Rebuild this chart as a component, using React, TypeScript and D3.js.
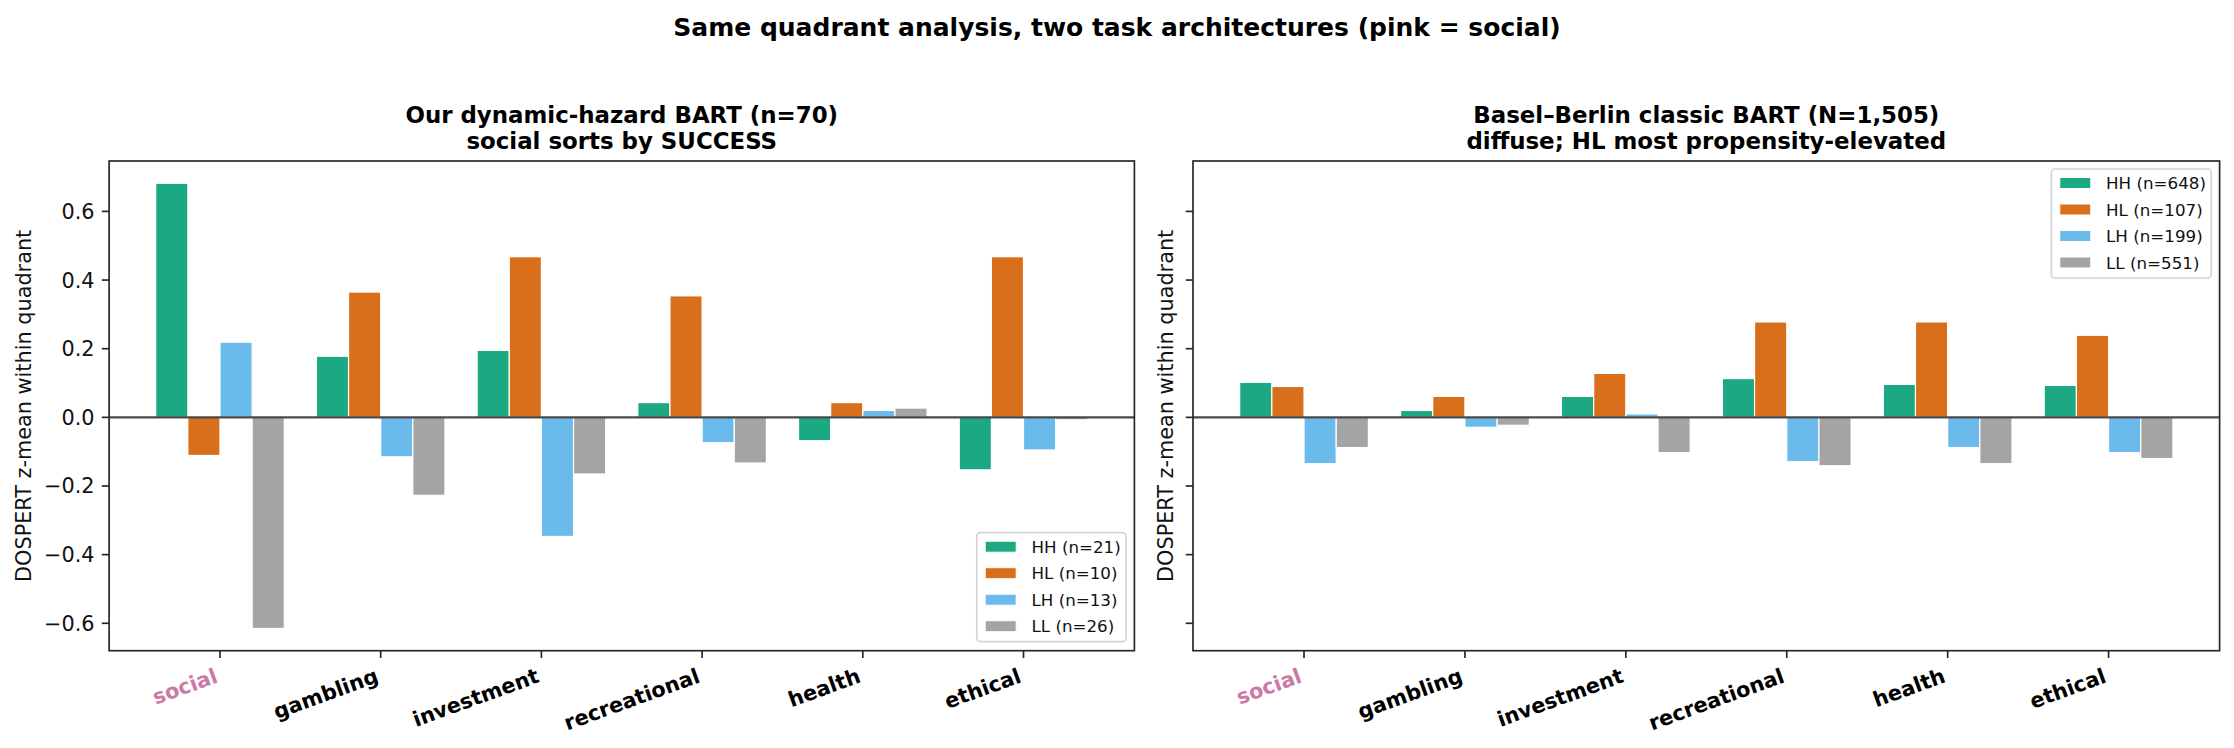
import React from 'react';
import * as d3 from 'd3';

// categories and groups
const categories = ['social', 'gambling', 'investment', 'recreational', 'health', 'ethical'];
const quadrants = ['HH', 'HL', 'LH', 'LL'];

// our dynamic-hazard BART (n=70)
const ourHH = [0.682, 0.178, 0.195, 0.043, -0.068, -0.153];
const ourHL = [-0.111, 0.365, 0.468, 0.354, 0.043, 0.468];
const ourLH = [0.219, -0.115, -0.347, -0.074, 0.02, -0.095];
const ourLL = [-0.615, -0.227, -0.165, -0.133, 0.027, -0.007];
const ourN = [21, 10, 13, 26];

// Basel-Berlin classic BART (N=1,505)
const bbHH = [0.102, 0.02, 0.061, 0.113, 0.096, 0.093];
const bbHL = [0.09, 0.061, 0.128, 0.278, 0.278, 0.239];
const bbLH = [-0.135, -0.029, 0.01, -0.129, -0.088, -0.103];
const bbLL = [-0.088, -0.023, -0.103, -0.141, -0.135, -0.12];
const bbN = [648, 107, 199, 551];

const yTicks = [-0.6, -0.4, -0.2, 0.0, 0.2, 0.4, 0.6];

const colors = ['#1ba883', '#d96f1a', '#6abbeb', '#a4a4a4'];
const socialPink = '#cc79a7';
const FONT = '"DejaVu Sans", Verdana, sans-serif';

const W = 2234;
const H = 748;
const barW = 0.2;

// shared y domain (matplotlib-like 5% margins)
const allVals = [...ourHH, ...ourHL, ...ourLH, ...ourLL, ...bbHH, ...bbHL, ...bbLH, ...bbLL, 0];
const [vMin, vMax] = d3.extent(allVals) as [number, number];
const vPad = (vMax - vMin) * 0.05;
const y = d3.scaleLinear().domain([vMin - vPad, vMax + vPad]).range([650.7, 161]);

// x domain from bar extents
const xLo = -1.5 * barW - barW / 2;
const xHi = categories.length - 1 + 1.5 * barW + barW / 2;
const xPad = (xHi - xLo) * 0.05;

const fmt = (v: number) => (v < 0 ? '\u2212' : '') + Math.abs(v).toFixed(1);

const measure = (() => {
  let ctx: CanvasRenderingContext2D | null = null;
  return (s: string, size: number) => {
    if (!ctx) ctx = document.createElement('canvas').getContext('2d');
    if (!ctx) return s.length * size * 0.6;
    ctx.font = `${size}px "DejaVu Sans"`;
    return ctx.measureText(s).width;
  };
})();

type PanelProps = {
  left: number;
  right: number;
  titles: string[];
  series: number[][];
  counts: number[];
  legendPos: 'lower right' | 'upper right';
  tickLabels: boolean;
  ylabelX: number;
};

const Panel: React.FC<PanelProps> = ({ left, right, titles, series, counts, legendPos, tickLabels, ylabelX }) => {
  const x = d3.scaleLinear().domain([xLo - xPad, xHi + xPad]).range([left, right]);
  const [yBot, yTop] = y.range();
  const cx = (left + right) / 2;

  // legend
  const legFont = 16.7;
  const labels = quadrants.map((q, i) => `${q} (n=${counts[i]})`);
  const textW = d3.max(labels, l => measure(l, legFont)) || 0;
  const legW = textW + 60;
  const legH = 109;
  const legX = right - 8.4 - legW;
  const legY = legendPos === 'lower right' ? yBot - 9 - legH : yTop + 8;

  return (
    <g>
      {titles.map((t, i) => (
        <text key={t} x={cx} y={122.7 + i * 26.6} textAnchor="middle" fontWeight="bold" fontSize={22.9} fontFamily={FONT}>
          {t}
        </text>
      ))}

      {/* bars */}
      {series.map((vals, qi) =>
        vals.map((v, ci) => {
          const x0 = x(ci + (qi - 1.5) * barW - barW / 2);
          const x1 = x(ci + (qi - 1.5) * barW + barW / 2);
          return (
            <rect
              key={`${qi}-${ci}`}
              x={x0}
              width={x1 - x0}
              y={Math.min(y(v), y(0))}
              height={Math.abs(y(v) - y(0))}
              fill={colors[qi]}
              stroke="#fff"
              strokeWidth={1.2}
            />
          );
        })
      )}

      {/* zero line */}
      <line x1={left} x2={right} y1={y(0)} y2={y(0)} stroke="#4a4a4a" strokeWidth={2.3} />

      {/* y ticks */}
      {yTicks.map(t => (
        <g key={t}>
          <line x1={left - 7.3} x2={left} y1={y(t)} y2={y(t)} stroke="#262626" strokeWidth={1.67} />
          {tickLabels && (
            <text x={left - 14.6} y={y(t)} dy="0.36em" textAnchor="end" fontSize={20.8} fontFamily={FONT} fill="#111">
              {fmt(t)}
            </text>
          )}
        </g>
      ))}

      {/* x ticks */}
      {categories.map((c, i) => (
        <g key={c}>
          <line x1={x(i)} x2={x(i)} y1={yBot} y2={yBot + 7.3} stroke="#262626" strokeWidth={1.67} />
          <text
            transform={`translate(${x(i) - 1},${yBot + 31}) rotate(-20)`}
            textAnchor="end"
            fontWeight="bold"
            fontSize={20.8}
            fontFamily={FONT}
            fill={c === 'social' ? socialPink : '#000'}
          >
            {c}
          </text>
        </g>
      ))}

      {/* frame */}
      <rect x={left} y={yTop} width={right - left} height={yBot - yTop} fill="none" stroke="#262626" strokeWidth={1.67} />

      {/* y label */}
      <text
        transform={`translate(${ylabelX},${(yTop + yBot) / 2}) rotate(-90)`}
        textAnchor="middle"
        fontSize={20.8}
        fontFamily={FONT}
        fill="#111"
      >
        DOSPERT z-mean within quadrant
      </text>

      {/* legend */}
      <g>
        <rect x={legX} y={legY} width={legW} height={legH} rx={3.5} fill="#fff" fillOpacity={0.8} stroke="#d4d4d4" strokeWidth={1.7} />
        {labels.map((l, i) => {
          const ry = legY + 14 + i * 26.5;
          return (
            <g key={l}>
              <rect x={legX + 8.4} y={ry - 5.5} width={31} height={11} fill={colors[i]} stroke="#fff" strokeWidth={1} />
              <text x={legX + 54.7} y={ry} dy="0.36em" fontSize={legFont} fontFamily={FONT} fill="#111">
                {l}
              </text>
            </g>
          );
        })}
      </g>
    </g>
  );
};

const App: React.FC = () => {
  return (
    <div style={{ position: 'absolute', left: 0, top: 0 }}>
      <svg width={W} height={H} viewBox={`0 0 ${W} ${H}`} style={{ display: 'block', background: '#fff' }}>
        <rect width={W} height={H} fill="#fff" />
        <text x={W / 2} y={35.5} textAnchor="middle" fontWeight="bold" fontSize={25} fontFamily={FONT}>
          Same quadrant analysis, two task architectures (pink = social)
        </text>
        <Panel
          left={109.1}
          right={1134.4}
          titles={['Our dynamic-hazard BART (n=70)', 'social sorts by SUCCESS']}
          series={[ourHH, ourHL, ourLH, ourLL]}
          counts={ourN}
          legendPos="lower right"
          tickLabels={true}
          ylabelX={31}
        />
        <Panel
          left={1193}
          right={2219.6}
          titles={['Basel\u2013Berlin classic BART (N=1,505)', 'diffuse; HL most propensity-elevated']}
          series={[bbHH, bbHL, bbLH, bbLL]}
          counts={bbN}
          legendPos="upper right"
          tickLabels={false}
          ylabelX={1172.6}
        />
      </svg>
    </div>
  );
};

export default App;
